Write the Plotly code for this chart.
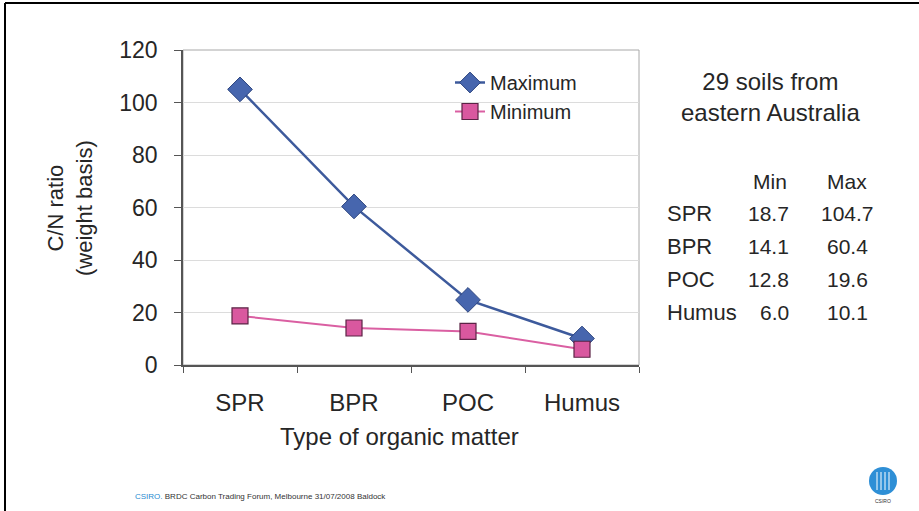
import plotly.graph_objects as go

# datos del gráfico
categorias = ["SPR", "BPR", "POC", "Humus"]
maximo = [105.0, 60.4, 24.8, 10.1]
minimo = [18.7, 14.1, 12.8, 6.0]

# tabla de la derecha (texto)
tabla_filas = ["SPR", "BPR", "POC", "Humus"]
tabla_min = ["18.7", "14.1", "12.8", "6.0"]
tabla_max = ["104.7", "60.4", "19.6", "10.1"]

W, H = 919, 511
L, R, T, B = 183, 639, 50, 365  # área de trazado en píxeles
FONT = "Arial, Liberation Sans, sans-serif"
AZUL = "#3D5A9C"
ROSA = "#DA5FA2"
TXT = "#262626"


def px(x):
    return (x - L) / (R - L)


def py(y):
    return (B - y) / (B - T)


def texto(fig, s, x, y, size, xa="center", ya="middle", color=TXT, angle=0):
    fig.add_annotation(text=s, xref="paper", yref="paper", x=px(x), y=py(y),
                       xanchor=xa, yanchor=ya, showarrow=False, textangle=angle,
                       font=dict(size=size, color=color, family=FONT))


fig = go.Figure()
fig.add_trace(go.Scatter(
    x=categorias, y=maximo, name="Maximum", mode="lines+markers",
    line=dict(color=AZUL, width=2.5),
    marker=dict(symbol="diamond", size=19, color="#4766AE",
                line=dict(color="#2E4680", width=1)),
))
fig.add_trace(go.Scatter(
    x=categorias, y=minimo, name="Minimum", mode="lines+markers",
    line=dict(color=ROSA, width=2),
    marker=dict(symbol="square", size=16, color="#D9589F",
                line=dict(color="#5B2345", width=1.2)),
))

fig.update_layout(
    width=W, height=H,
    margin=dict(l=L, r=W - R, t=T, b=H - B),
    paper_bgcolor="white", plot_bgcolor="white",
    font=dict(family=FONT, color=TXT),
    showlegend=True,
    legend=dict(x=px(450), y=py(63), xanchor="left", yanchor="top",
                font=dict(size=20, color=TXT), bgcolor="rgba(0,0,0,0)"),
)
fig.update_xaxes(
    type="category", range=[-0.5, len(categorias) - 0.5],
    showgrid=False, showline=True, linecolor="#555555",
    linewidth=1.5, ticks="outside", tickson="boundaries", ticklen=6,
    tickcolor="#555555", tickfont=dict(size=24, color=TXT),
    ticklabelstandoff=15,
)
fig.update_yaxes(
    range=[0, 120], dtick=20, showgrid=True, gridcolor="#DCDCDC",
    showline=True, linecolor="#555555", linewidth=1.5, ticks="outside",
    ticklen=7, tickcolor="#555555", tickfont=dict(size=23, color=TXT),
    ticklabelstandoff=12, zeroline=False,
)

# borde gris del área de trazado
fig.add_shape(type="rect", xref="paper", yref="paper", x0=0, x1=1, y0=0, y1=1,
              line=dict(color="#A8A8A8", width=1), layer="below")
# borde de la diapositiva
fig.add_shape(type="line", xref="paper", yref="paper", x0=px(5), x1=px(5),
              y0=py(3), y1=py(H + 5), line=dict(color="black", width=2))
fig.add_shape(type="line", xref="paper", yref="paper", x0=px(5), x1=px(W + 5),
              y0=py(3), y1=py(3), line=dict(color="black", width=2))

# títulos de ejes
texto(fig, "C/N ratio<br>(weight basis)", 70, 208, 22, angle=-90)
texto(fig, "Type of organic matter", 399, 436, 24)

# texto y tabla de la derecha
texto(fig, "29 soils from<br>eastern Australia", 770, 97, 24)
texto(fig, "Min", 770, 181, 21)
texto(fig, "Max", 847, 181, 21)
filas_y = [214, 246, 279, 312]
for fila, vmin, vmax, yy in zip(tabla_filas, tabla_min, tabla_max, filas_y):
    texto(fig, fila, 665, yy, 22, xa="left")
    texto(fig, vmin, 791, yy, 21, xa="right")
    texto(fig, vmax, 847, yy, 21)

# pie de página
texto(fig, "<span style='color:#1F8BD0'>CSIRO.</span> BRDC Carbon Trading Forum, "
      "Melbourne 31/07/2008 Baldock", 133, 496, 8, xa="left", color="#333333")

# logo CSIRO aproximado
fig.add_shape(type="circle", xref="paper", yref="paper", x0=px(869), x1=px(897),
              y0=py(495), y1=py(467), fillcolor="#2E8FD6",
              line=dict(color="#2E8FD6", width=0))
for xl in [877, 881, 885, 889]:
    fig.add_shape(type="line", xref="paper", yref="paper", x0=px(xl), x1=px(xl),
                  y0=py(490), y1=py(472), line=dict(color="white", width=1))
texto(fig, "CSIRO", 883, 501, 5, color="#333333")

# sin margen del <body>, para que la figura ocupe la ventana exacta
fig.write_html("out.html", config={"displayModeBar": False},
               post_script="document.body.style.margin='0';")
